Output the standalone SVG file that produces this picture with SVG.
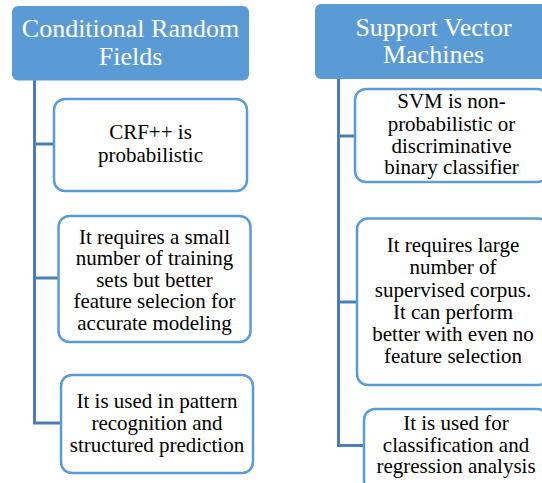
<svg xmlns="http://www.w3.org/2000/svg" width="542" height="483" viewBox="0 0 542 483">
<style>
.hdr{fill:#5b9bd5;}
.ht{fill:#ffffff;font-family:'Liberation Serif','Tinos','Times New Roman','DejaVu Serif',serif;font-size:26px;text-anchor:middle;}
.box{fill:#ffffff;stroke:#5b9bd5;stroke-width:2.5;}
.bt{fill:#000000;font-family:'Liberation Serif','Tinos','Times New Roman','DejaVu Serif',serif;font-size:21px;text-anchor:middle;}
.con{fill:none;stroke:#4a7eb5;stroke-width:3;}
</style>
<rect width="542" height="483" fill="#ffffff"/>
<g id="connectors">
<path class="con" d="M34.5,80 V423 H61"/>
<path class="con" d="M34.5,144 H54"/>
<path class="con" d="M34.5,278 H58"/>
<path class="con" d="M338.5,79 V445.5 H364"/>
<path class="con" d="M338.5,136 H355"/>
<path class="con" d="M338.5,302 H357"/>
</g>
<g id="crf">
<rect class="hdr" x="12" y="6" width="237" height="74.5" rx="6"/>
<text class="ht" x="130.5" y="37">Conditional Random</text>
<text class="ht" x="130.5" y="65">Fields</text>
</g>
<g id="svm">
<rect class="hdr" x="315" y="4" width="237" height="75" rx="6"/>
<text class="ht" x="433.5" y="36">Support Vector</text>
<text class="ht" x="433.5" y="63">Machines</text>
</g>
<g id="crf1">
<rect class="box" x="54" y="99" width="193" height="92" rx="11"/>
<text class="bt" x="150.5" y="139">CRF++ is</text>
<text class="bt" x="150.5" y="162">probabilistic</text>
</g>
<g id="crf2">
<rect class="box" x="58.5" y="216" width="192" height="126" rx="11"/>
<text class="bt" x="154.5" y="243.5">It requires a small</text>
<text class="bt" x="154.5" y="265">number of training</text>
<text class="bt" x="154.5" y="286.5">sets but better</text>
<text class="bt" x="154.5" y="308">feature selecion for</text>
<text class="bt" x="154.5" y="329.5">accurate modeling</text>
</g>
<g id="crf3">
<rect class="box" x="61" y="375" width="192" height="98" rx="11"/>
<text class="bt" x="157" y="408">It is used in pattern</text>
<text class="bt" x="157" y="430">recognition and</text>
<text class="bt" x="157" y="452">structured prediction</text>
</g>
<g id="svm1">
<rect class="box" x="355" y="89" width="193" height="93" rx="11"/>
<text class="bt" x="451.5" y="108">SVM is non-</text>
<text class="bt" x="451.5" y="131">probabilistic or</text>
<text class="bt" x="451.5" y="153">discriminative</text>
<text class="bt" x="451.5" y="174">binary classifier</text>
</g>
<g id="svm2">
<rect class="box" x="357" y="218.5" width="192" height="166.5" rx="11"/>
<text class="bt" x="453" y="252">It requires large</text>
<text class="bt" x="453" y="274">number of</text>
<text class="bt" x="453" y="297">supervised corpus.</text>
<text class="bt" x="453" y="319">It can perform</text>
<text class="bt" x="453" y="341">better with even no</text>
<text class="bt" x="453" y="363">feature selection</text>
</g>
<g id="svm3">
<rect class="box" x="364" y="409" width="184" height="82" rx="11"/>
<text class="bt" x="456" y="430">It is used for</text>
<text class="bt" x="456" y="452">classification and</text>
<text class="bt" x="456" y="473">regression analysis</text>
</g>
</svg>
